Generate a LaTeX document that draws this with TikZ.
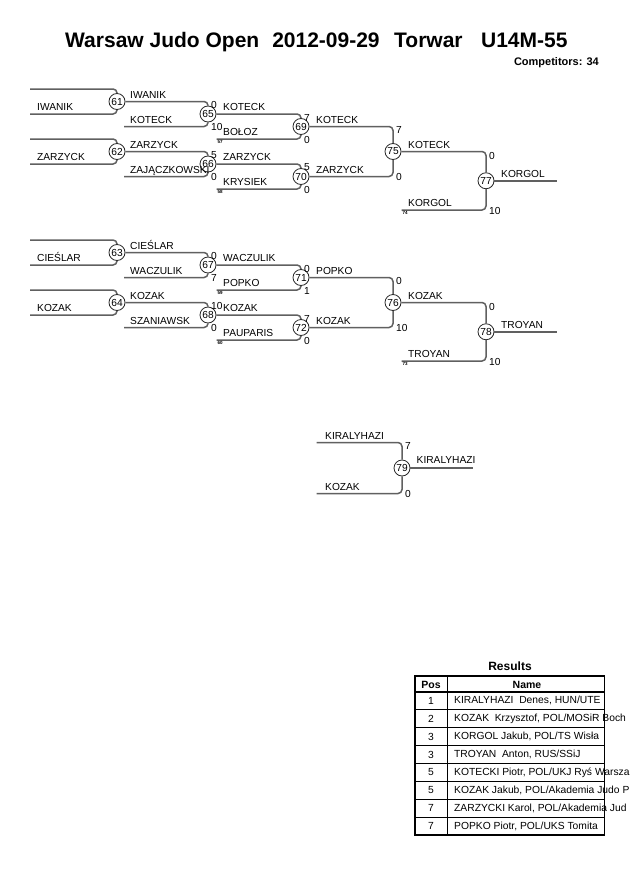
\documentclass[tikz,border=0pt]{standalone}
\usepackage{fontspec}
\setmainfont{Liberation Sans}
\definecolor{linec}{RGB}{96,96,96}
\definecolor{circc}{RGB}{40,40,40}
\newcommand\nmfont{\fontsize{10.2}{12}\selectfont}
\newcommand\tyfont{\fontsize{4.5}{5}\selectfont\bfseries}
\newcommand\tbfont{\fontsize{10.3}{12}\selectfont}
\tikzset{
  ln/.style={draw=linec, line width=1.5pt, rounded corners=4pt},
  mc/.style={circle, draw=circc, line width=0.8pt, fill=white, minimum size=16pt, inner sep=0pt, font=\nmfont},
  nm/.style={anchor=base west, inner sep=0pt, font=\nmfont},
  sc/.style={anchor=west, inner sep=0pt, font=\nmfont},
  tn/.style={anchor=north west, inner sep=0pt, font=\tyfont},
  tbl/.style={anchor=west, inner sep=0pt, font=\tbfont},
  tbc/.style={anchor=center, inner sep=0pt, font=\tbfont},
}
\begin{document}
\begin{tikzpicture}[x=1pt,y=-1pt]
\fill[white] (0,0) rectangle (630,891);
\useasboundingbox (0,0) rectangle (630,891);

% title
\node[anchor=base west, inner sep=0pt, font=\bfseries\fontsize{21}{25}\selectfont] (title) at (65,47.5)
  {Warsaw Judo Open\hspace{13pt}2012-09-29\hspace{14.5pt}Torwar\hspace{18.5pt}U14M-55};
\node[anchor=base east, inner sep=0pt, font=\bfseries\fontsize{11}{13}\selectfont] (comp) at (599,66) {Competitors: 34};

% ---------------- top half ----------------
% 61
\coordinate (a61t) at (30,89); \coordinate (a61b) at (30,114);
\node[mc] (m61) at (117,101.5) {61};
\draw[ln] (a61t) -| (m61); \draw[ln] (a61b) -| (m61);
\node[nm] (l61) at (37,110.5) {IWANIK};
% 62
\coordinate (a62t) at (30,139); \coordinate (a62b) at (30,164);
\node[mc] (m62) at (117,151.5) {62};
\draw[ln] (a62t) -| (m62); \draw[ln] (a62b) -| (m62);
\node[nm] (l62) at (37,160.5) {ZARZYCK};
% 65
\node[mc] (m65) at (208,114) {65};
\coordinate (b65) at (124,126.5);
\draw[ln] (m61) -| (m65); \draw[ln] (b65) -| (m65);
\node[nm] (l65a) at (130,98) {IWANIK};
\node[nm] (l65b) at (130,123) {KOTECK};
\node[sc] (s65a) at (211,105) {0};
\node[sc] (s65b) at (211,127) {10};
% 66
\node[mc] (m66) at (208,164) {66};
\coordinate (b66) at (124,176.5);
\draw[ln] (m62) -| (m66); \draw[ln] (b66) -| (m66);
\node[nm] (l66a) at (130,148) {ZARZYCK};
\node[nm] (l66b) at (130,173) {ZAJĄCZKOWSKI};
\node[sc] (s66a) at (211,155) {5};
\node[sc] (s66b) at (211,177) {0};
% 69
\node[mc] (m69) at (301,126.5) {69};
\coordinate (b69) at (216.5,139);
\draw[ln] (m65) -| (m69); \draw[ln] (b69) -| (m69);
\node[nm] (l69a) at (223,110.5) {KOTECK};
\node[nm] (l69b) at (223,135.5) {BOŁOZ};
\node[tn] (t69) at (217.5,140.5) {57};
\node[sc] (s69a) at (304,117.5) {7};
\node[sc] (s69b) at (304,139.5) {0};
% 70
\node[mc] (m70) at (301,176.5) {70};
\coordinate (b70) at (216.5,189);
\draw[ln] (m66) -| (m70); \draw[ln] (b70) -| (m70);
\node[nm] (l70a) at (223,160.5) {ZARZYCK};
\node[nm] (l70b) at (223,185.5) {KRYSIEK};
\node[tn] (t70) at (217.5,190.5) {58};
\node[sc] (s70a) at (304,167.5) {5};
\node[sc] (s70b) at (304,189.5) {0};
% 75
\node[mc] (m75) at (393,151.5) {75};
\draw[ln] (m69) -| (m75); \draw[ln] (m70) -| (m75);
\node[nm] (l75a) at (316,123) {KOTECK};
\node[nm] (l75b) at (316,173) {ZARZYCK};
\node[sc] (s75a) at (396,130) {7};
\node[sc] (s75b) at (396,177) {0};
% 77
\node[mc] (m77) at (486,180.75) {77};
\coordinate (b77) at (401.5,210);
\draw[ln] (m75) -| (m77); \draw[ln] (b77) -| (m77);
\node[nm] (l77a) at (408,148) {KOTECK};
\node[nm] (l77b) at (408,206.5) {KORGOL};
\node[tn] (t77) at (402.5,211.5) {74};
\node[sc] (s77a) at (489,155.5) {0};
\node[sc] (s77b) at (489,210.5) {10};
\coordinate (e77) at (557,180.75);
\draw[ln] (m77) -- (e77);
\node[nm] (l77c) at (501,177.25) {KORGOL};

% ---------------- bottom half ----------------
% 63
\coordinate (a63t) at (30,240); \coordinate (a63b) at (30,265);
\node[mc] (m63) at (117,252.5) {63};
\draw[ln] (a63t) -| (m63); \draw[ln] (a63b) -| (m63);
\node[nm] (l63) at (37,261.5) {CIEŚLAR};
% 64
\coordinate (a64t) at (30,290); \coordinate (a64b) at (30,315);
\node[mc] (m64) at (117,302.5) {64};
\draw[ln] (a64t) -| (m64); \draw[ln] (a64b) -| (m64);
\node[nm] (l64) at (37,311.5) {KOZAK};
% 67
\node[mc] (m67) at (208,265) {67};
\coordinate (b67) at (124,277.5);
\draw[ln] (m63) -| (m67); \draw[ln] (b67) -| (m67);
\node[nm] (l67a) at (130,249) {CIEŚLAR};
\node[nm] (l67b) at (130,274) {WACZULIK};
\node[sc] (s67a) at (211,256) {0};
\node[sc] (s67b) at (211,278) {7};
% 68
\node[mc] (m68) at (208,315) {68};
\coordinate (b68) at (124,327.5);
\draw[ln] (m64) -| (m68); \draw[ln] (b68) -| (m68);
\node[nm] (l68a) at (130,299) {KOZAK};
\node[nm] (l68b) at (130,324) {SZANIAWSK};
\node[sc] (s68a) at (211,306) {10};
\node[sc] (s68b) at (211,328) {0};
% 71
\node[mc] (m71) at (301,277.5) {71};
\coordinate (b71) at (216.5,290);
\draw[ln] (m67) -| (m71); \draw[ln] (b71) -| (m71);
\node[nm] (l71a) at (223,261.5) {WACZULIK};
\node[nm] (l71b) at (223,286.5) {POPKO};
\node[tn] (t71) at (217.5,291.5) {59};
\node[sc] (s71a) at (304,268.5) {0};
\node[sc] (s71b) at (304,290.5) {1};
% 72
\node[mc] (m72) at (301,327.5) {72};
\coordinate (b72) at (216.5,340);
\draw[ln] (m68) -| (m72); \draw[ln] (b72) -| (m72);
\node[nm] (l72a) at (223,311.5) {KOZAK};
\node[nm] (l72b) at (223,336.5) {PAUPARIS};
\node[tn] (t72) at (217.5,341.5) {60};
\node[sc] (s72a) at (304,318.5) {7};
\node[sc] (s72b) at (304,340.5) {0};
% 76
\node[mc] (m76) at (393,302.5) {76};
\draw[ln] (m71) -| (m76); \draw[ln] (m72) -| (m76);
\node[nm] (l76a) at (316,274) {POPKO};
\node[nm] (l76b) at (316,324) {KOZAK};
\node[sc] (s76a) at (396,281) {0};
\node[sc] (s76b) at (396,328) {10};
% 78
\node[mc] (m78) at (486,331.75) {78};
\coordinate (b78) at (401.5,361);
\draw[ln] (m76) -| (m78); \draw[ln] (b78) -| (m78);
\node[nm] (l78a) at (408,299) {KOZAK};
\node[nm] (l78b) at (408,357.5) {TROYAN};
\node[tn] (t78) at (402.5,362.5) {73};
\node[sc] (s78a) at (489,306.5) {0};
\node[sc] (s78b) at (489,361.5) {10};
\coordinate (e78) at (557,331.75);
\draw[ln] (m78) -- (e78);
\node[nm] (l78c) at (501,328.25) {TROYAN};

% ---------------- match 79 ----------------
\coordinate (a79t) at (316.5,442.5); \coordinate (a79b) at (316.5,493.5);
\node[mc] (m79) at (402,468) {79};
\draw[ln] (a79t) -| (m79); \draw[ln] (a79b) -| (m79);
\node[nm] (l79a) at (325,439) {KIRALYHAZI};
\node[nm] (l79b) at (325,490) {KOZAK};
\node[sc] (s79a) at (405,446) {7};
\node[sc] (s79b) at (405,494) {0};
\coordinate (e79) at (473,468);
\draw[ln] (m79) -- (e79);
\node[nm] (l79c) at (416.5,463) {KIRALYHAZI};

% ---------------- results ----------------
\node[anchor=center, inner sep=0pt, font=\bfseries\fontsize{12}{14}\selectfont] (rtitle) at (510,666.5) {Results};
\node[tbc, font=\bfseries\fontsize{10.5}{12}\selectfont] (hpos) at (431,684.5) {Pos};
\node[tbc, font=\bfseries\fontsize{10.5}{12}\selectfont] (hname) at (527,684.5) {Name};
\node[tbc] (p1) at (431,700.9) {1};
\node[tbl] (n1) at (454,700.9) {KIRALYHAZI\ \ Denes, HUN/UTE};
\node[tbc] (p2) at (431,718.8) {2};
\node[tbl] (n2) at (454,718.8) {KOZAK\ \ Krzysztof, POL/MOSiR Boch};
\node[tbc] (p3) at (431,736.7) {3};
\node[tbl] (n3) at (454,736.7) {KORGOL Jakub, POL/TS Wisła};
\node[tbc] (p4) at (431,754.6) {3};
\node[tbl] (n4) at (454,754.6) {TROYAN\ \ Anton, RUS/SSiJ};
\node[tbc] (p5) at (431,772.4) {5};
\node[tbl] (n5) at (454,772.4) {KOTECKI Piotr, POL/UKJ Ryś Warsza};
\node[tbc] (p6) at (431,790.3) {5};
\node[tbl] (n6) at (454,790.3) {KOZAK Jakub, POL/Akademia Judo P};
\node[tbc] (p7) at (431,808.2) {7};
\node[tbl] (n7) at (454,808.2) {ZARZYCKI Karol, POL/Akademia Jud};
\node[tbc] (p8) at (431,826.1) {7};
\node[tbl] (n8) at (454,826.1) {POPKO Piotr, POL/UKS Tomita};
% grid
\foreach \i in {1,...,7} {
  \draw[line width=0.9pt] (415,{692+17.875*\i}) -- (604.5,{692+17.875*\i});
}
\draw[line width=1.3pt] (415,692) -- (604.5,692);
\draw[line width=1pt] (447,676) -- (447,835);
\draw[line width=1.8pt] (415,676) rectangle (604.5,835);
\end{tikzpicture}
\end{document}
